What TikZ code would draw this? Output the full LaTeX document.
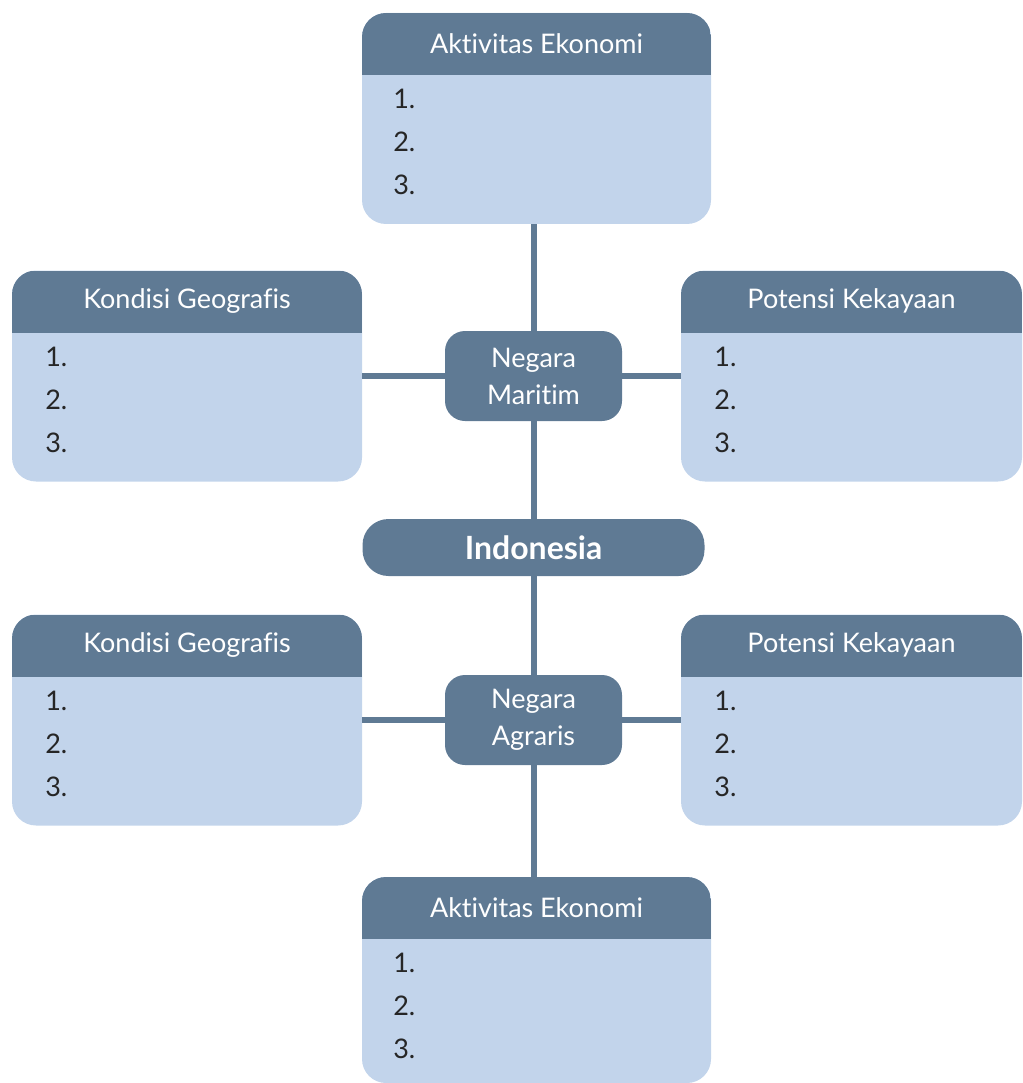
\documentclass[tikz,border=0pt]{standalone}
\usepackage{fontspec}
\setmainfont{Lato}[Ligatures=NoCommon]
\usepackage{xcolor}
\usetikzlibrary{positioning}
\definecolor{headblue}{RGB}{95,122,148}
\definecolor{bodyblue}{RGB}{194,212,235}

\begin{document}
\begin{tikzpicture}[
    x=1pt, y=-1pt,
    card/.style={rectangle, rounded corners=24pt, fill=bodyblue, inner sep=0pt,
        minimum width=349pt, minimum height=211pt,
        path picture={\fill[headblue, sharp corners] (path picture bounding box.north west)
            rectangle ([yshift=-62pt]path picture bounding box.north east);}},
    title/.style={text=white, font=\fontsize{27}{30}\selectfont},
    items/.style={anchor=north west, align=left, text=black!85,
        font=\fontsize{27}{43}\selectfont},
    hub/.style={rectangle, rounded corners=20pt, fill=headblue, text=white,
        minimum width=177pt, minimum height=90pt, align=center,
        font=\fontsize{27}{37}\selectfont},
    link/.style={draw=headblue, line width=6pt}
]
\useasboundingbox (0,0) rectangle (1022,1083);

% upper half
\node[card] (ekoUp) at (536.5,118.5) {};
\node[card, minimum width=350pt] (geoUp) at (187,376) {};
\node[card, minimum width=341pt] (potUp) at (851.5,376) {};
\node[hub] (maritim) at (533.5,376) {Negara\\Maritim};

% centre
\node[hub, minimum width=342pt, minimum height=57pt, rounded corners=26pt,
    font=\fontsize{32}{36}\selectfont\bfseries] (indo) at (533.5,547.5) {Indonesia};

% lower half
\node[card, minimum width=350pt] (geoLo) at (187,720) {};
\node[card, minimum width=341pt] (potLo) at (851.5,720) {};
\node[hub] (agraris) at (533.5,720) {Negara\\Agraris};
\node[card, minimum height=206pt] (ekoLo) at (536.5,980) {};

% titles
\node[title] (ekoUpT) at ([yshift=-31pt]ekoUp.north) {Aktivitas Ekonomi};
\node[title] (geoUpT) at ([yshift=-31pt]geoUp.north) {Kondisi Geografis};
\node[title] (potUpT) at ([yshift=-31pt]potUp.north) {Potensi Kekayaan};
\node[title] (geoLoT) at ([yshift=-31pt]geoLo.north) {Kondisi Geografis};
\node[title] (potLoT) at ([yshift=-31pt]potLo.north) {Potensi Kekayaan};
\node[title] (ekoLoT) at ([yshift=-31pt]ekoLo.north) {Aktivitas Ekonomi};

% numbered lines
\node[items] (ekoUpL) at ([xshift=28pt, yshift=-73pt]ekoUp.north west) {1.\\2.\\3.};
\node[items] (geoUpL) at ([xshift=30pt, yshift=-73pt]geoUp.north west) {1.\\2.\\3.};
\node[items] (potUpL) at ([xshift=30pt, yshift=-73pt]potUp.north west) {1.\\2.\\3.};
\node[items] (geoLoL) at ([xshift=30pt, yshift=-73pt]geoLo.north west) {1.\\2.\\3.};
\node[items] (potLoL) at ([xshift=30pt, yshift=-73pt]potLo.north west) {1.\\2.\\3.};
\node[items] (ekoLoL) at ([xshift=28pt, yshift=-73pt]ekoLo.north west) {1.\\2.\\3.};

% connectors
\draw[link] (maritim) -- (maritim |- ekoUp.south);
\draw[link] (maritim) -- (geoUp);
\draw[link] (maritim) -- (potUp);
\draw[link] (maritim) -- (indo);
\draw[link] (indo) -- (agraris);
\draw[link] (agraris) -- (geoLo);
\draw[link] (agraris) -- (potLo);
\draw[link] (agraris) -- (agraris |- ekoLo.north);
\end{tikzpicture}
\end{document}
